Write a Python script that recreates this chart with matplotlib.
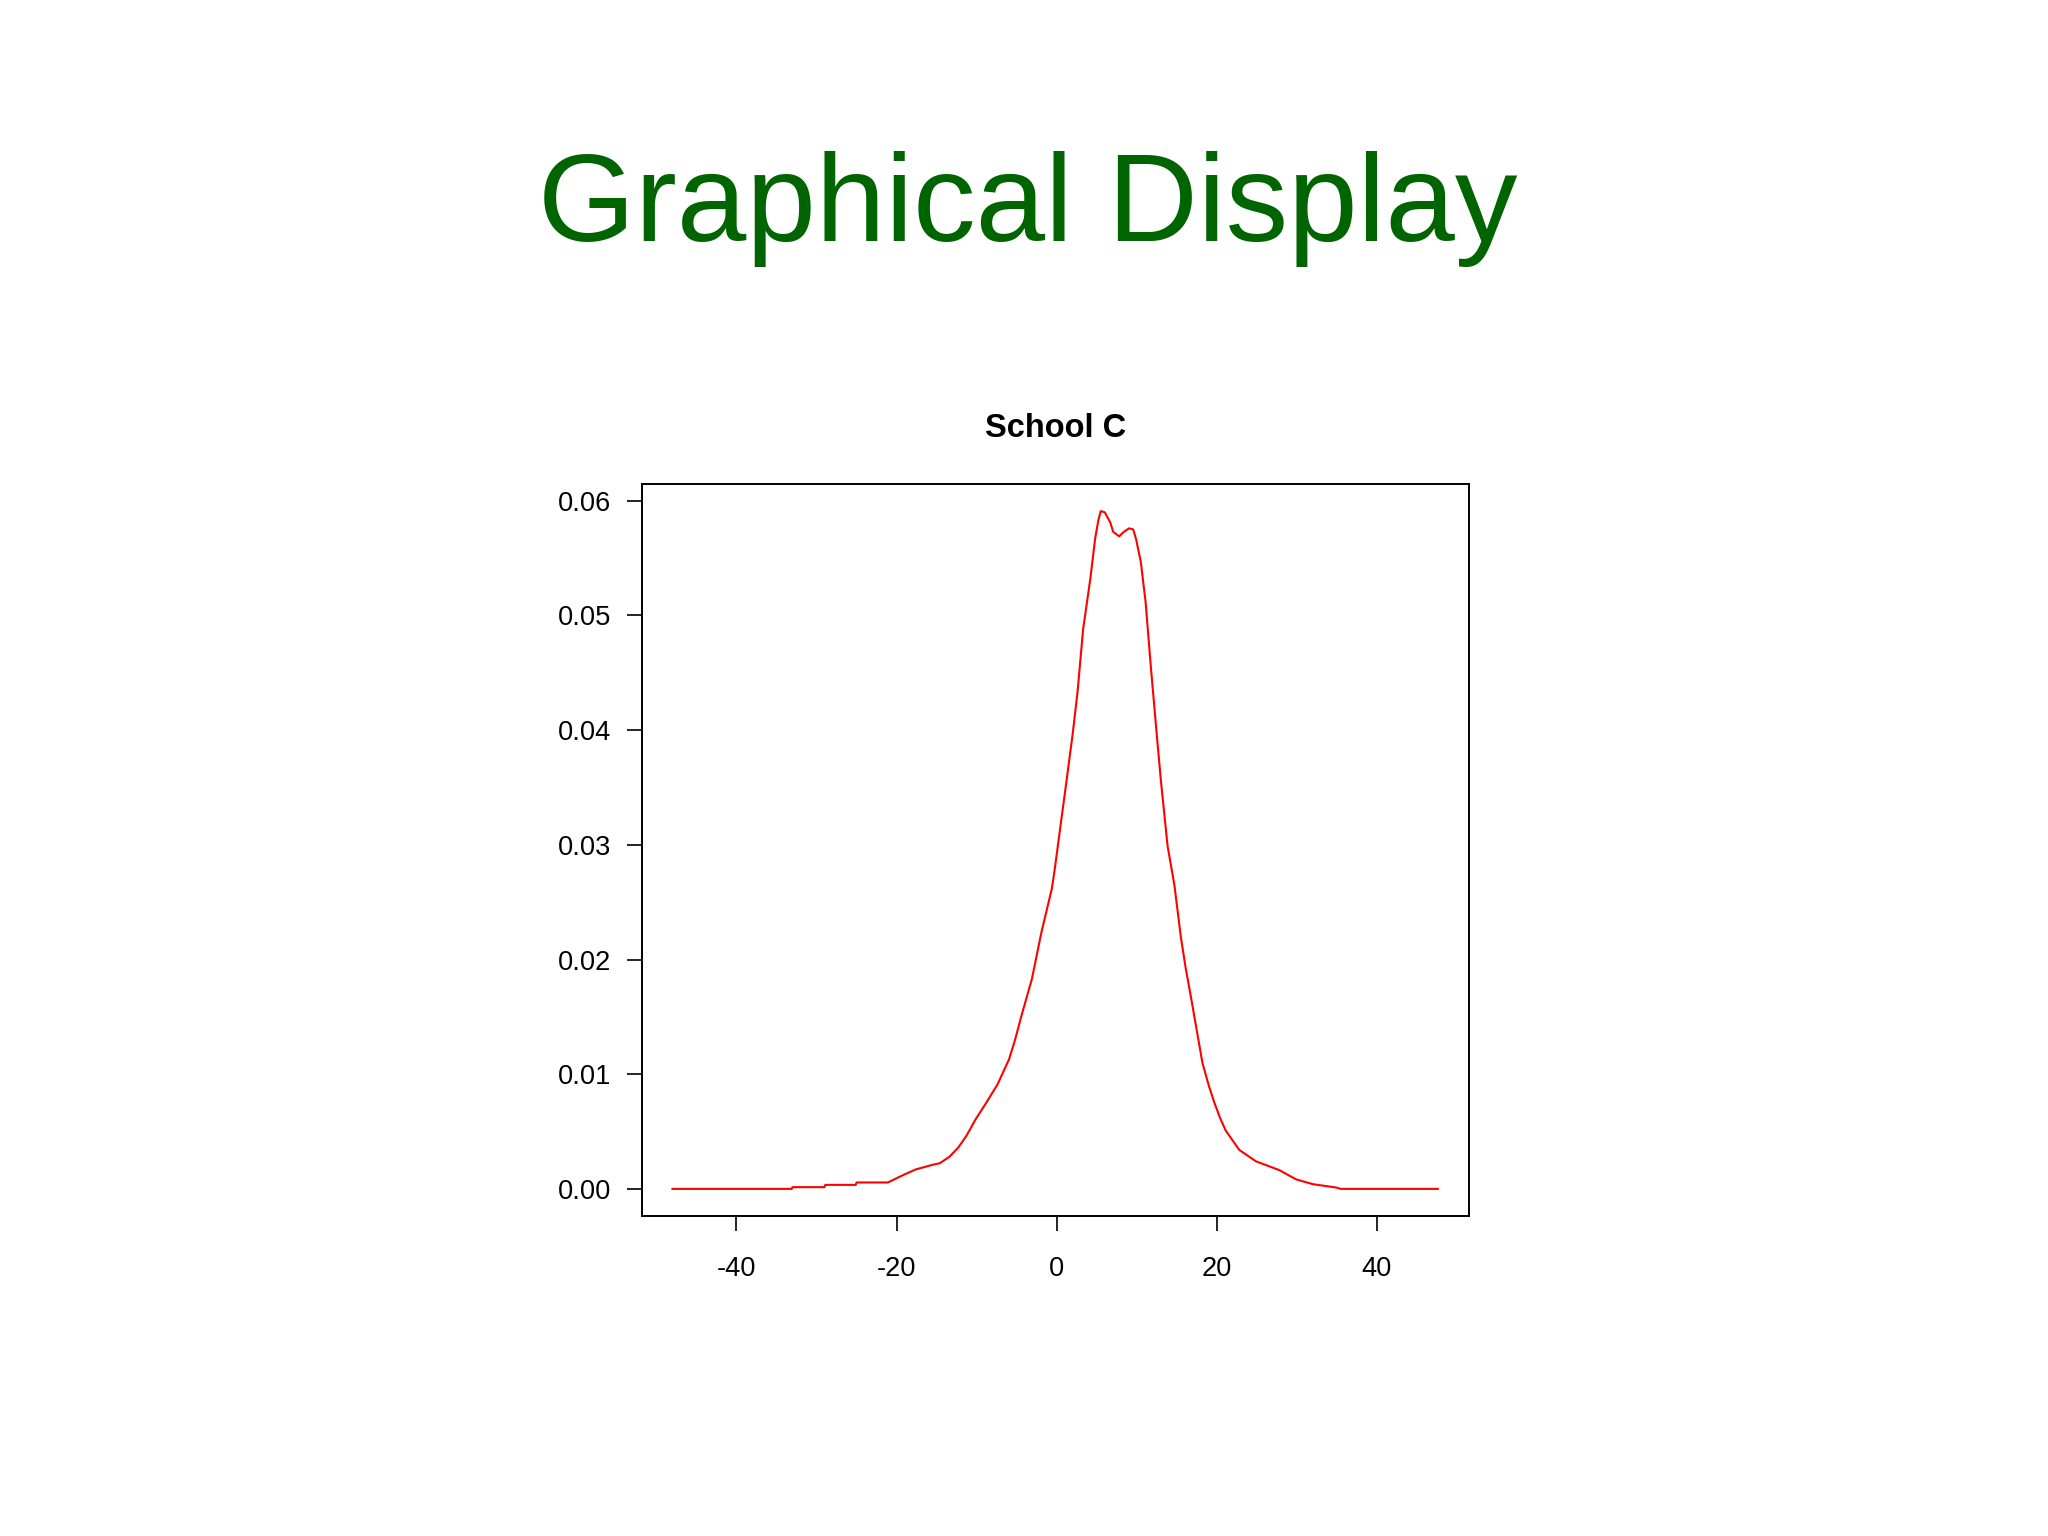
import numpy as np
import matplotlib
matplotlib.use("Agg")
import matplotlib.pyplot as plt

plt.rcParams['font.family'] = ['Liberation Sans', 'DejaVu Sans']

# density curve (x, density)
dens_x = [-48.0, -33.1, -33.0, -29.0, -28.9, -25.1, -25.0, -21.1, -20.9, -19.2,
          -17.6, -15.5, -14.6, -13.4, -12.3, -11.3, -10.1, -8.9, -7.4, -5.95,
          -5.2, -4.4, -3.1, -1.9, -0.6, -0.2, 0.5, 1.25, 2.0, 2.6,
          3.3, 4.2, 4.8, 5.2, 5.5, 6.0, 6.7, 7.05, 7.8, 8.4,
          9.05, 9.55, 9.9, 10.5, 11.1, 11.75, 12.4, 13.0, 13.85, 14.7,
          15.5, 16.1, 16.75, 17.5, 18.2, 19.0, 19.7, 20.4, 21.1, 22.0,
          22.8, 24.9, 27.8, 29.9, 32.0, 34.9, 35.5, 47.6]
dens_y = [0.0, 0.0, 0.00015, 0.00015, 0.00035, 0.00035, 0.00056, 0.00056, 0.00062, 0.0012,
          0.0017, 0.0021, 0.00224, 0.0028, 0.0036, 0.0046, 0.0061, 0.0074, 0.0091, 0.0113,
          0.0130, 0.0151, 0.0183, 0.0224, 0.0262, 0.0281, 0.0318, 0.0357, 0.0397, 0.0433,
          0.0488, 0.0532, 0.0567, 0.0583, 0.0591, 0.0590, 0.0581, 0.0573, 0.0569, 0.0573,
          0.0576, 0.0575, 0.0567, 0.0547, 0.0512, 0.0456, 0.0404, 0.0357, 0.0299, 0.0265,
          0.0220, 0.0193, 0.0168, 0.0138, 0.0110, 0.0090, 0.0075, 0.0062, 0.0051, 0.0042,
          0.0034, 0.0024, 0.00164, 0.00083, 0.00041, 0.00012, 0.0, 0.0]

x_ticks = [-40, -20, 0, 20, 40]
y_ticks = [0.00, 0.01, 0.02, 0.03, 0.04, 0.05, 0.06]
y_ticklabels = ["0.00", "0.01", "0.02", "0.03", "0.04", "0.05", "0.06"]

fig = plt.figure(figsize=(20.48, 15.36), dpi=100)
fig.patch.set_facecolor('white')

fig.text(1028 / 2048, 1 - 241 / 1536, "Graphical Display", ha='center', va='baseline',
         fontsize=90, color='#006400')

ax = fig.add_axes([642 / 2048, 1 - 1216 / 1536, 827 / 2048, 732 / 1536])
ax.plot(dens_x, dens_y, color='red', lw=1.5)

# R style limits: 4% extension on each side
ax.set_xlim(-51.8, 51.5)
ymax = max(dens_y)
ax.set_ylim(-0.04 * ymax, ymax * 1.04)

ax.set_xticks(x_ticks)
ax.set_xticklabels([str(t) for t in x_ticks])
ax.set_yticks(y_ticks)
ax.set_yticklabels(y_ticklabels)
ax.tick_params(axis='both', length=11, width=1.2, labelsize=19.6, direction='out')
ax.tick_params(axis='x', pad=18)
ax.tick_params(axis='y', pad=11)
for s in ax.spines.values():
    s.set_linewidth(1.4)

ax.set_title("School C", fontsize=23.5, fontweight='bold', pad=34)

fig.savefig("out.png", dpi=100, facecolor='white')
